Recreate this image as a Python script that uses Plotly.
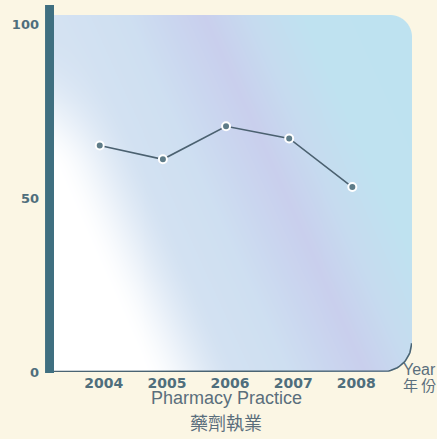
import base64
import struct
import zlib

import numpy as np
import plotly.graph_objects as go

years = [2004, 2005, 2006, 2007, 2008]
values = [65, 61, 70.5, 67, 53]
ytick_vals = [0, 50, 100]
ytick_text = ["0", "50", "100"]

W, H = 437, 439
ML, MR, MT, MB = 52, 25, 14, 66
PW, PH = W - ML - MR, H - MT - MB

BG = "#FBF6E4"
TXT = "#4F6E7C"


def px2x(px):
    return (px - ML) / PW


def py2y(py):
    return (H - MB - py) / PH


# ---------- decorative background panel (gradient with rounded corners) ----------
def png_data_uri(arr):
    h, w = arr.shape[:2]
    raw = b"".join(b"\x00" + arr[i].tobytes() for i in range(h))

    def chunk(t, d):
        return struct.pack(">I", len(d)) + t + d + struct.pack(">I", zlib.crc32(t + d) & 0xFFFFFFFF)

    png = (b"\x89PNG\r\n\x1a\n"
           + chunk(b"IHDR", struct.pack(">IIBBBBB", w, h, 8, 6, 0, 0, 0))
           + chunk(b"IDAT", zlib.compress(raw, 9))
           + chunk(b"IEND", b""))
    return "data:image/png;base64," + base64.b64encode(png).decode()


def smooth(a):
    a = np.clip(a, 0, 1)
    return a * a * (3 - 2 * a)


cols = np.arange(PW) + 0.5
rows = np.arange(PH) + 0.5
X, Y = np.meshgrid(cols, rows)
u = X / PW
yup = 1 - Y / PH
d = u - 0.45 * (1 - yup)
stops = [-0.6, 0.0, 0.2, 0.32, 0.42, 0.55, 0.7, 1.2]
palette = np.array([
    [214, 227, 242], [212, 226, 242], [206, 223, 241], [202, 214, 239],
    [201, 207, 237], [198, 219, 239], [191, 226, 240], [189, 226, 240]], float)
img = np.zeros((PH, PW, 3))
for c in range(3):
    img[..., c] = np.interp(d, stops, palette[:, c])
xw = 0.44 * (1 - yup) - 0.06
wgt = smooth((xw + 0.13 - u) / 0.26) * smooth((0.97 - yup) / 0.4)
img = img * (1 - wgt[..., None]) + 255 * wgt[..., None]

alpha = np.ones((PH, PW))
r1 = 22.0
cx1, cy1 = PW - r1, r1
m1 = (X > cx1) & (Y < cy1)
dist1 = np.hypot(X - cx1, Y - cy1)
alpha[m1] = np.clip(r1 - dist1[m1] + 0.5, 0, 1)
r2 = 29.0
cx2, cy2 = PW - r2, PH - r2
m2 = (X > cx2) & (Y > cy2)
dist2 = np.hypot(X - cx2, Y - cy2)
alpha[m2] = np.clip(r2 - dist2[m2] + 0.5, 0, 1)

rgba = np.dstack([img, alpha * 255]).round().clip(0, 255).astype(np.uint8)
panel_uri = png_data_uri(rgba)

fig = go.Figure()
fig.add_trace(go.Image(source=panel_uri, x0=0.5, y0=0.5, dx=1, dy=1,
                       hoverinfo="skip"))

# bottom edge line with the rounded bottom-right corner
t = np.linspace(np.pi / 2, 0, 25)
line_x = [0.0] + list(cx2 + (r2 - 0.5) * np.cos(t))
line_y = [PH - 0.5] + list(cy2 + (r2 - 0.5) * np.sin(t))
fig.add_trace(go.Scatter(x=line_x, y=line_y, mode="lines",
                         line=dict(color="#4A6473", width=1.6),
                         hoverinfo="skip", showlegend=False, cliponaxis=False))

# ---------- data ----------
fig.add_trace(go.Scatter(
    x=years, y=values, xaxis="x2", yaxis="y2", mode="lines+markers",
    line=dict(color="#4B6170", width=1.6),
    marker=dict(size=8, color="#5E7C88", line=dict(color="white", width=2)),
    showlegend=False, cliponaxis=False,
))

x_left = years[0] - 46 / 63.5
x_right = years[-1] + 60 / 63.5
y_top = 100 + 10 / 3.49

fig.update_layout(
    width=W, height=H,
    margin=dict(l=ML, r=MR, t=MT, b=MB),
    paper_bgcolor=BG, plot_bgcolor="rgba(0,0,0,0)",
    xaxis=dict(range=[0, PW], visible=False, fixedrange=True),
    yaxis=dict(range=[PH, 0], visible=False, fixedrange=True),
    xaxis2=dict(range=[x_left, x_right], tickvals=years, ticktext=[str(y) for y in years],
                overlaying="x", side="bottom",
                showgrid=False, zeroline=False, showline=False, ticks="",
                tickfont=dict(family="DejaVu Sans", size=14, color=TXT, weight="bold"),
                ticklabelshift=4, ticklabelstandoff=1, fixedrange=True),
    yaxis2=dict(range=[0, y_top], tickvals=ytick_vals, ticktext=ytick_text,
                overlaying="y", side="left",
                showgrid=False, zeroline=False, showline=False, ticks="",
                tickfont=dict(family="DejaVu Sans", size=13, color=TXT, weight="bold"),
                ticklabelstandoff=14, fixedrange=True),
    shapes=[dict(type="rect", xref="paper", yref="paper", layer="above",
                 x0=px2x(43), x1=px2x(52), y0=py2y(373), y1=py2y(5),
                 fillcolor="#3F6F80", line=dict(width=0))],
    annotations=[
        dict(text="Pharmacy Practice", xref="paper", yref="paper", x=px2x(225), y=py2y(398),
             showarrow=False, font=dict(family="Liberation Sans", size=18, color="#5A6E7C"),
             xanchor="center", yanchor="middle"),
        dict(text="藥劑執業", xref="paper", yref="paper", x=px2x(225), y=py2y(422),
             showarrow=False, font=dict(family="Noto Sans CJK TC", size=18, color="#5A6E7C"),
             xanchor="center", yanchor="middle"),
        dict(text="Year", xref="paper", yref="paper", x=px2x(401), y=py2y(369),
             showarrow=False, font=dict(family="Liberation Sans", size=16, color="#5A6E7C"),
             xanchor="left", yanchor="middle"),
        dict(text="年 份", xref="paper", yref="paper", x=px2x(401), y=py2y(384),
             showarrow=False, font=dict(family="Noto Sans CJK TC", size=15, color="#5A6E7C"),
             xanchor="left", yanchor="middle"),
    ],
)

fig.write_html("out.html", config={"displayModeBar": False},
               post_script="document.body.style.margin='0';")
